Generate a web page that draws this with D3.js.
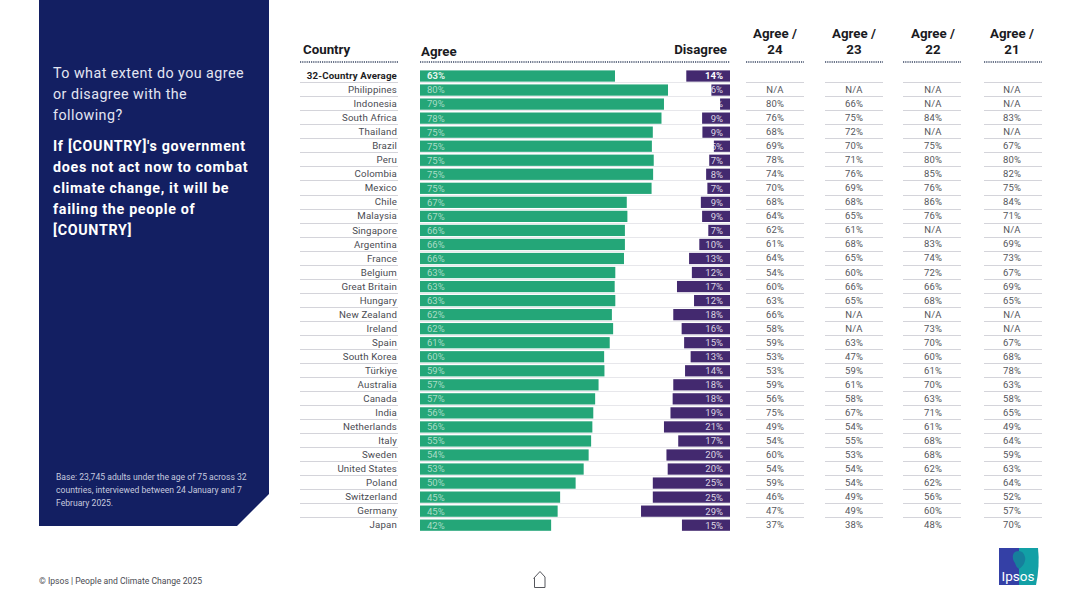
<!DOCTYPE html>
<html>
<head>
<meta charset="utf-8">
<title>People and Climate Change 2025</title>
<script src="https://d3js.org/d3.v7.min.js"></script>
<style>
html, body { margin:0; padding:0; background:#fff; }
svg { display:block; }
text { font-family: Roboto, sans-serif; }
.head { font-size:13.3px; font-weight:700; fill:#1a1a22; }
.cell { font-size:9.5px; fill:#55565c; text-anchor:middle; letter-spacing:.2px; }
.rule { stroke:#d4d4da; stroke-width:1px; }
.dots { stroke:#3c4a66; stroke-width:1.3px; stroke-dasharray:1.2 1; }
.panel { fill:#e4e6f2; font-size:14.3px; letter-spacing:.45px; }
.panelb { fill:#fff; font-size:14.3px; font-weight:700; letter-spacing:.68px; }
.base { fill:#c6cadf; font-size:8.6px; }
</style>
</head>
<body>
<script>
var countries = ["32-Country Average","Philippines","Indonesia","South Africa","Thailand","Brazil","Peru","Colombia","Mexico","Chile","Malaysia","Singapore","Argentina","France","Belgium","Great Britain","Hungary","New Zealand","Ireland","Spain","South Korea","Türkiye","Australia","Canada","India","Netherlands","Italy","Sweden","United States","Poland","Switzerland","Germany","Japan"];

// bar lengths (the printed labels are rounded)
var agree = [62.9,80,78.7,77.9,75.1,74.8,75.4,75.2,74.7,66.7,66.9,66.1,66.1,65.8,63,62.8,63,61.9,62.3,61.2,59.4,59.5,57.6,56.5,55.9,55.6,55.2,54.4,52.8,50.2,45.2,44.4,42.3];
var disagree = [14.1,6,3.2,9,8.9,5.2,6.7,7.7,7.3,9.4,9,7,9.9,13.2,12.3,17.1,11.6,18.3,15.6,14.8,12.7,14.5,18.3,18.5,19.2,21.3,16.7,20.5,20.1,24.9,24.9,28.7,15.5];

var agreeLabels = [63,80,79,78,75,75,75,75,75,67,67,66,66,66,63,63,63,62,62,61,60,59,57,57,56,56,55,54,53,50,45,45,42];
var disagreeLabels = [14,6,3,9,9,5,7,8,7,9,9,7,10,13,12,17,12,18,16,15,13,14,18,18,19,21,17,20,20,25,25,29,15];

var agree24 = ["","N/A","80%","76%","68%","69%","78%","74%","70%","68%","64%","62%","61%","64%","54%","60%","63%","66%","58%","59%","53%","53%","59%","56%","75%","49%","54%","60%","54%","59%","46%","47%","37%"];
var agree23 = ["","N/A","66%","75%","72%","70%","71%","76%","69%","68%","65%","61%","68%","65%","60%","66%","65%","N/A","N/A","63%","47%","59%","61%","58%","67%","54%","55%","53%","54%","54%","49%","49%","38%"];
var agree22 = ["","N/A","N/A","84%","N/A","75%","80%","85%","76%","86%","76%","N/A","83%","74%","72%","66%","68%","N/A","73%","70%","60%","61%","70%","63%","71%","61%","68%","68%","62%","62%","56%","60%","48%"];
var agree21 = ["","N/A","N/A","83%","N/A","67%","80%","82%","75%","84%","71%","N/A","69%","73%","67%","69%","65%","N/A","N/A","67%","68%","78%","63%","58%","65%","49%","64%","59%","63%","64%","52%","57%","70%"];

var yearHeads = [["Agree /","24"],["Agree /","23"],["Agree /","22"],["Agree /","21"]];
var yearCols = [agree24, agree23, agree22, agree21];
var yearCenters = [775, 854, 933, 1012];

var questionLines = ["To what extent do you agree","or disagree with the","following?"];
var statementLines = ["If [COUNTRY]'s government","does not act now to combat","climate change, it will be","failing the people of","[COUNTRY]"];
var baseLines = ["Base: 23,745 adults under the age of 75 across 32","countries, interviewed between 24 January and 7","February 2025."];

var width = 1080, height = 607;
var svg = d3.select("body").append("svg").attr("width", width).attr("height", height);

// left panel with the cut corner
svg.append("path").attr("d", "M39,0H269V494L237,526H39Z").attr("fill", "#131f62");
svg.selectAll(".panel").data(questionLines).enter().append("text")
  .attr("class", "panel").attr("x", 53).attr("y", function(d, i) { return 78 + i * 21; }).text(function(d) { return d; });
svg.selectAll(".panelb").data(statementLines).enter().append("text")
  .attr("class", "panelb").attr("x", 53).attr("y", function(d, i) { return 150.5 + i * 21; }).text(function(d) { return d; });
svg.selectAll(".base").data(baseLines).enter().append("text")
  .attr("class", "base").attr("x", 56).attr("y", function(d, i) { return 480 + i * 13; }).text(function(d) { return d; });

// scales
var y = d3.scaleBand().domain(countries).range([69, 532.2]).paddingInner(0.2).paddingOuter(0.1);
var xAgree = d3.scaleLinear().domain([0, 100]).range([420, 730]);
var xDis = d3.scaleLinear().domain([0, 100]).range([730, 420]);

// rows: rules sit just under each bar, except below Japan
var rows = countries.slice(0, -1);
function ruleY(d) { return Math.round(y(d) + y.bandwidth() + 0.6) + 0.5; }
[[300, 398], [420, 730], [746, 804], [825, 883], [903, 961], [984, 1042]].forEach(function(r, k) {
  svg.append("g").selectAll("line").data(rows).enter().append("line")
    .attr("class", "rule").attr("x1", r[0]).attr("x2", r[1])
    .attr("stroke-opacity", k == 1 ? 0.55 : 1)
    .attr("y1", ruleY).attr("y2", ruleY);
  svg.append("line").attr("class", "dots").attr("x1", r[0]).attr("x2", r[1]).attr("y1", 62).attr("y2", 62);
});

// bars
svg.append("g").selectAll("rect").data(countries).enter().append("rect")
  .attr("x", xAgree(0)).attr("y", function(d) { return y(d); })
  .attr("width", function(d, i) { return xAgree(agree[i]) - xAgree(0); })
  .attr("height", y.bandwidth()).attr("fill", "#24a678");
svg.append("g").selectAll("rect").data(countries).enter().append("rect")
  .attr("x", function(d, i) { return xDis(disagree[i]); }).attr("y", function(d) { return y(d); })
  .attr("width", function(d, i) { return xDis(0) - xDis(disagree[i]); })
  .attr("height", y.bandwidth()).attr("fill", "#43296f");

// bar labels; white labels on short bars run off onto the white page, as in the slide
svg.append("g").selectAll("text").data(countries).enter().append("text")
  .attr("x", 427).attr("y", function(d) { return y(d) + y.bandwidth() / 2 + 3.4; })
  .attr("fill", function(d, i) { return i == 0 ? "#e6f5ee" : "#a9dcc6"; })
  .attr("font-size", 9.5).attr("font-weight", function(d, i) { return i == 0 ? 700 : 400; })
  .text(function(d, i) { return agreeLabels[i] + "%"; });
svg.append("g").selectAll("text").data(countries).enter().append("text")
  .attr("x", 723).attr("text-anchor", "end").attr("y", function(d) { return y(d) + y.bandwidth() / 2 + 3.4; })
  .attr("fill", "#fff").attr("fill-opacity", function(d, i) { return i == 0 ? 1 : 0.82; })
  .attr("font-size", 9.5).attr("font-weight", function(d, i) { return i == 0 ? 700 : 400; })
  .text(function(d, i) { return disagreeLabels[i] + "%"; });

// country axis
var axis = svg.append("g").attr("transform", "translate(397,0)")
  .call(d3.axisLeft(y).tickSize(0).tickPadding(0));
axis.select(".domain").remove();
axis.selectAll("text")
  .style("font-family", "Roboto, sans-serif")
  .attr("font-size", 9.7).attr("letter-spacing", 0.15)
  .attr("font-weight", function(d, i) { return i == 0 ? 700 : 400; })
  .attr("fill", function(d, i) { return i == 0 ? "#1d1d24" : "#4a4b52"; });

// year columns
yearCols.forEach(function(col, c) {
  svg.append("g").selectAll("text").data(col).enter().append("text")
    .attr("class", "cell").attr("x", yearCenters[c])
    .attr("y", function(d, i) { return y(countries[i]) + y.bandwidth() / 2 + 3; })
    .text(function(d) { return d; });
  yearHeads[c].forEach(function(t, i) {
    svg.append("text").attr("class", "head").attr("text-anchor", "middle")
      .attr("x", yearCenters[c]).attr("y", 38 + i * 16).text(t);
  });
});

svg.append("text").attr("class", "head").attr("x", 303).attr("y", 54).text("Country");
svg.append("text").attr("class", "head").attr("x", 421).attr("y", 56).text("Agree");
svg.append("text").attr("class", "head").attr("x", 727).attr("y", 54).attr("text-anchor", "end").text("Disagree");

// footer
svg.append("text").attr("x", 39).attr("y", 584).attr("font-size", 8.6).attr("fill", "#4a4b52")
  .text("© Ipsos | People and Climate Change 2025");

// home icon
svg.append("path").attr("d", "M533.5,578.5L540,571.5L545,577V587.5H534.5V578")
  .attr("fill", "none").attr("stroke", "#55565c").attr("stroke-width", 1);

// logo
svg.append("rect").attr("x", 999).attr("y", 548).attr("width", 20).attr("height", 37).attr("fill", "#3440a6");
svg.append("path").attr("d", "M1019,548H1038Q1040,566 1036,585H1019Z").attr("fill", "#12a0a6");
svg.append("path").attr("d", "M1019,551C1011,551 1012,560 1015,563C1016,566 1017,568 1019,569C1024,566 1026,560 1025,557C1024,553 1022,551 1019,551Z")
  .attr("fill", "#167f9c");
svg.append("text").attr("x", 1018).attr("y", 581).attr("text-anchor", "middle")
  .attr("font-size", 13.5).attr("font-weight", 400).attr("fill", "#fff").text("Ipsos");
</script>
</body>
</html>
